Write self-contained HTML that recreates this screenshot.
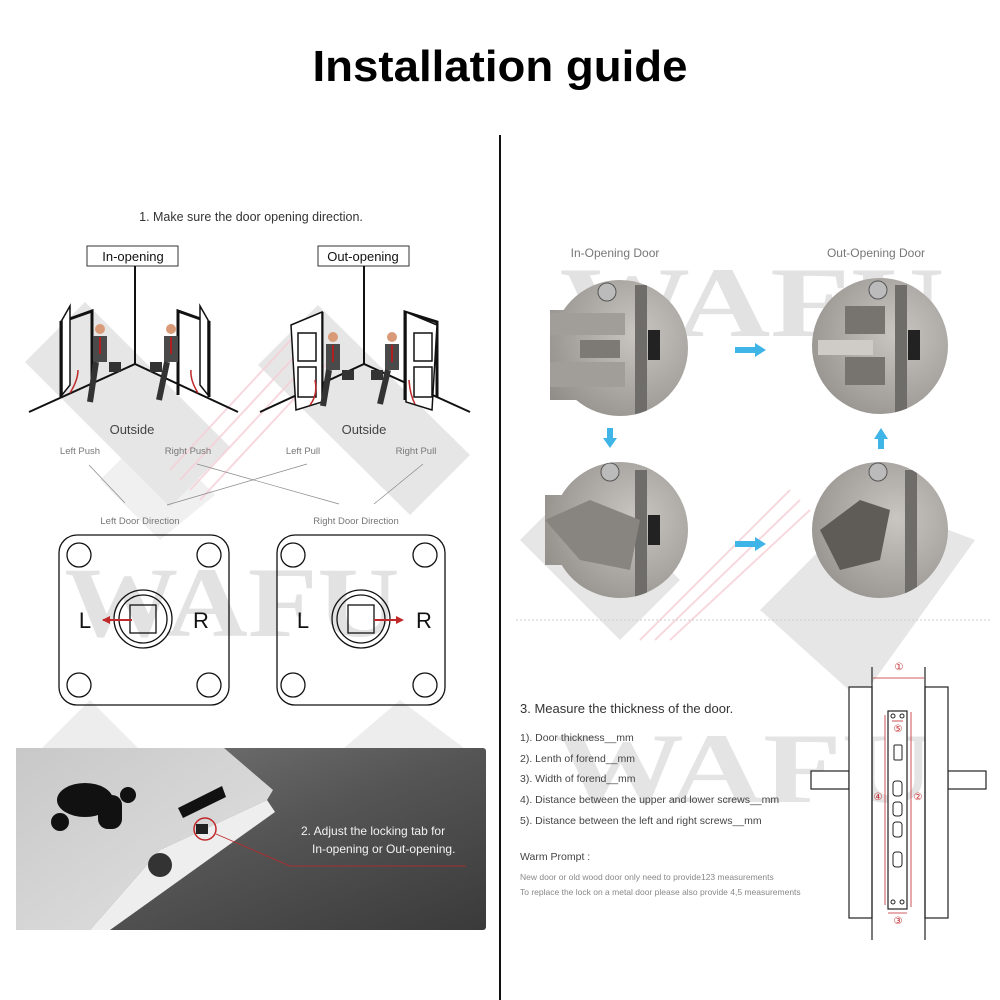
<!DOCTYPE html>
<html><head><meta charset="utf-8"><style>
html,body{margin:0;padding:0;background:#fff;}
svg{display:block;}
text{font-family:"Liberation Sans",sans-serif;}
text.wm{font-family:"Liberation Serif",serif;font-weight:bold;}
</style></head><body>
<svg width="1000" height="1000" viewBox="0 0 1000 1000" xmlns="http://www.w3.org/2000/svg">
<defs>
<linearGradient id="dark" x1="0" y1="0" x2="1" y2="1"><stop offset="0" stop-color="#7a7a7a"/><stop offset="0.5" stop-color="#555"/><stop offset="1" stop-color="#3a3a3a"/></linearGradient>
<linearGradient id="plate" x1="0" y1="0" x2="1" y2="1"><stop offset="0" stop-color="#c8c8c8"/><stop offset="1" stop-color="#e2e2e2"/></linearGradient>
<radialGradient id="metal" cx="0.6" cy="0.4" r="0.7"><stop offset="0" stop-color="#c9c6c2"/><stop offset="1" stop-color="#8d8a86"/></radialGradient>
<clipPath id="c1"><circle cx="620" cy="348" r="68"/><rect x="550" y="310" width="60" height="90"/></clipPath>
<clipPath id="c2"><circle cx="880" cy="346" r="68"/></clipPath>
<clipPath id="c3"><circle cx="620" cy="530" r="68"/><rect x="545" y="495" width="60" height="70"/></clipPath>
<clipPath id="c4"><circle cx="880" cy="530" r="68"/></clipPath>
</defs>

<!-- watermark diamonds -->
<g fill="#e6e6e6">
<polygon points="25,362 85,302 230,447 170,507"/>
<polygon points="258,365 318,305 470,455 410,515"/>
<polygon points="150,430 215,495 160,540 100,480" opacity="0.6"/>
<polygon points="520,540 580,480 680,580 620,640"/>
<polygon points="760,610 870,500 975,540 860,700"/>
<polygon points="30,760 90,700 240,850 180,910" opacity="0.7"/>
<polygon points="330,760 400,700 480,760 410,830" opacity="0.7"/>
</g>
<g stroke="#f6cfd6" stroke-width="2" opacity="0.8">
<line x1="170" y1="470" x2="300" y2="330"/><line x1="180" y1="480" x2="310" y2="340"/><line x1="190" y1="490" x2="320" y2="350"/><line x1="200" y1="500" x2="330" y2="360"/>
<line x1="640" y1="640" x2="790" y2="490"/><line x1="655" y1="640" x2="800" y2="500"/><line x1="670" y1="640" x2="810" y2="510"/>
</g>
<!-- WAFU watermark text -->
<text class="wm" x="232" y="636" font-size="100" fill="#e2e2e2" text-anchor="middle" textLength="335" lengthAdjust="spacingAndGlyphs">WAFU</text>
<text class="wm" x="752" y="336" font-size="100" fill="#e2e2e2" text-anchor="middle" textLength="385" lengthAdjust="spacingAndGlyphs">WAFU</text>
<text class="wm" x="745" y="802" font-size="100" fill="#e4e4e4" text-anchor="middle" textLength="380" lengthAdjust="spacingAndGlyphs">WAFU</text>

<!-- title -->
<text x="500" y="81" font-size="44" font-weight="bold" text-anchor="middle" fill="#000" textLength="375" lengthAdjust="spacingAndGlyphs">Installation guide</text>
<line x1="500" y1="135" x2="500" y2="1000" stroke="#111" stroke-width="2"/>

<!-- left section 1 -->
<text x="251" y="221" font-size="12.5" text-anchor="middle" fill="#333">1. Make sure the door opening direction.</text>
<rect x="87" y="246" width="91" height="20" fill="#fff" stroke="#333"/>
<text x="133" y="261" font-size="13" text-anchor="middle" fill="#111">In-opening</text>
<rect x="318" y="246" width="91" height="20" fill="#fff" stroke="#333"/>
<text x="363" y="261" font-size="13" text-anchor="middle" fill="#111">Out-opening</text>
<g stroke="#111" stroke-width="2" fill="none">
<line x1="135" y1="266" x2="135" y2="364"/><polyline points="29,412 135,364 238,412"/>
<line x1="364" y1="266" x2="364" y2="364"/><polyline points="260,412 364,364 470,412"/>
</g>
<!-- doors -->
<g stroke="#111" stroke-width="3" fill="none">
<polyline points="61,397 61,322 92,311 92,395"/>
<polyline points="209,397 209,322 178,311 178,395"/>
<polyline points="322,402 322,312"/>
<polyline points="405,400 405,312 437,322 437,397"/>
</g>
<g stroke="#111" stroke-width="1.5" fill="#fff">
<polygon points="62,320 70,306 70,385 62,395"/>
<polygon points="208,320 200,306 200,385 208,395"/>
<polygon points="291,325 322,312 322,402 296,410" />
<polygon points="437,325 406,312 406,402 432,410"/>
<rect x="298" y="333" width="18" height="28" fill="none"/><rect x="298" y="367" width="18" height="30" fill="none"/>
<rect x="414" y="333" width="18" height="28" fill="none"/><rect x="414" y="367" width="18" height="30" fill="none"/>
</g>
<!-- persons -->
<g>
<g transform="translate(100,332)"><circle cx="0" cy="-3" r="5" fill="#d99a78"/><rect x="-7" y="4" width="14" height="26" fill="#4a4a4a"/><line x1="0" y1="5" x2="0" y2="22" stroke="#b02020" stroke-width="2"/><polyline points="-4,30 -10,70 M4,30 12,68" stroke="#333" stroke-width="6" fill="none"/><rect x="9" y="30" width="12" height="10" fill="#333"/></g>
<g transform="translate(171,332)"><circle cx="0" cy="-3" r="5" fill="#d99a78"/><rect x="-7" y="4" width="14" height="26" fill="#4a4a4a"/><line x1="0" y1="5" x2="0" y2="22" stroke="#b02020" stroke-width="2"/><polyline points="-4,30 -12,68 M4,30 10,70" stroke="#333" stroke-width="6" fill="none"/><rect x="-21" y="30" width="12" height="10" fill="#333"/></g>
<g transform="translate(333,340)"><circle cx="0" cy="-3" r="5" fill="#d99a78"/><rect x="-7" y="4" width="14" height="26" fill="#4a4a4a"/><line x1="0" y1="5" x2="0" y2="22" stroke="#b02020" stroke-width="2"/><polyline points="-4,30 -10,66 M4,30 12,64" stroke="#333" stroke-width="6" fill="none"/><rect x="9" y="30" width="12" height="10" fill="#333"/></g>
<g transform="translate(392,340)"><circle cx="0" cy="-3" r="5" fill="#d99a78"/><rect x="-7" y="4" width="14" height="26" fill="#4a4a4a"/><line x1="0" y1="5" x2="0" y2="22" stroke="#b02020" stroke-width="2"/><polyline points="-4,30 -12,64 M4,30 10,66" stroke="#333" stroke-width="6" fill="none"/><rect x="-21" y="30" width="12" height="10" fill="#333"/></g>
</g>
<g stroke="#c0282a" stroke-width="1.5" fill="none">
<path d="M70,393 Q78,380 78,370"/><path d="M198,393 Q190,380 191,370"/>
<path d="M315,380 Q318,395 310,405"/><path d="M409,380 Q410,395 415,404"/>
</g>
<text x="132" y="434" font-size="13" text-anchor="middle" fill="#444">Outside</text>
<text x="364" y="434" font-size="13" text-anchor="middle" fill="#444">Outside</text>
<g font-size="9.5" fill="#777" text-anchor="middle">
<text x="80" y="454">Left Push</text><text x="188" y="454">Right Push</text>
<text x="303" y="454">Left Pull</text><text x="416" y="454">Right Pull</text>
<text x="140" y="524">Left Door Direction</text><text x="356" y="524">Right Door Direction</text>
</g>
<g stroke="#888" stroke-width="0.7">
<line x1="89" y1="465" x2="125" y2="503"/><line x1="307" y1="464" x2="167" y2="505"/>
<line x1="197" y1="464" x2="339" y2="504"/><line x1="423" y1="464" x2="374" y2="504"/>
</g>
<!-- plates -->
<g stroke="#111" stroke-width="1.3" fill="none">
<rect x="59" y="535" width="170" height="170" rx="18"/>
<circle cx="79" cy="555" r="12"/><circle cx="209" cy="555" r="12"/><circle cx="79" cy="685" r="12"/><circle cx="209" cy="685" r="12"/>
<circle cx="143" cy="619" r="29"/><circle cx="143" cy="619" r="24"/>
<rect x="130" y="605" width="26" height="28"/>
<rect x="277" y="535" width="168" height="170" rx="18"/>
<circle cx="293" cy="555" r="12"/><circle cx="425" cy="555" r="12"/><circle cx="293" cy="685" r="12"/><circle cx="425" cy="685" r="12"/>
<circle cx="361" cy="619" r="29"/><circle cx="361" cy="619" r="24"/>
<rect x="348" y="605" width="26" height="28"/>
</g>
<g stroke="#c0282a" stroke-width="2"><line x1="103" y1="620" x2="132" y2="620"/><line x1="374" y1="620" x2="402" y2="620"/></g>
<polygon points="102,620 110,616 110,624" fill="#c0282a"/><polygon points="404,620 396,616 396,624" fill="#c0282a"/>
<g font-size="22" fill="#111" text-anchor="middle"><text x="85" y="628">L</text><text x="201" y="628">R</text><text x="303" y="628">L</text><text x="424" y="628">R</text></g>

<!-- bottom photo -->
<rect x="16" y="748" width="470" height="182" rx="3" fill="url(#dark)"/>
<polygon points="16,748 224,748 273,790 267,800 160,850 90,930 16,930" fill="url(#plate)"/>
<polygon points="160,850 267,800 275,812 110,930 90,930" fill="#eee"/>
<ellipse cx="85" cy="800" rx="28" ry="17" fill="#111"/><rect x="98" y="795" width="24" height="34" rx="10" fill="#111"/>
<circle cx="60" cy="822" r="9" fill="#111"/><circle cx="128" cy="795" r="8" fill="#111"/>
<polygon points="178,808 222,786 226,797 183,818" fill="#111"/>
<circle cx="160" cy="865" r="12" fill="#333"/>
<rect x="196" y="824" width="12" height="10" fill="#222"/>
<circle cx="205" cy="829" r="11" fill="none" stroke="#c0282a" stroke-width="1.5"/>
<polyline points="216,834 290,866 466,866" fill="none" stroke="#c0282a" stroke-width="0.8"/>
<text x="301" y="835" font-size="12" fill="#f2f2f2">2. Adjust the locking tab for</text>
<text x="312" y="853" font-size="12" fill="#f2f2f2">In-opening or Out-opening.</text>

<!-- right: photos -->
<text x="615" y="257" font-size="12" text-anchor="middle" fill="#777">In-Opening Door</text>
<text x="876" y="257" font-size="12" text-anchor="middle" fill="#777">Out-Opening Door</text>
<g clip-path="url(#c1)"><rect x="540" y="270" width="160" height="160" fill="url(#metal)"/><rect x="635" y="285" width="12" height="130" fill="#6f6d6a"/><rect x="648" y="330" width="12" height="30" fill="#222"/><rect x="550" y="313" width="75" height="22" fill="#a19d98"/><rect x="550" y="362" width="75" height="25" fill="#a19d98"/><rect x="580" y="340" width="40" height="18" fill="#7d7a76"/><circle cx="607" cy="292" r="9" fill="#bbb" stroke="#555"/></g>
<g clip-path="url(#c2)"><rect x="800" y="270" width="160" height="160" fill="url(#metal)"/><rect x="895" y="285" width="12" height="130" fill="#6f6d6a"/><rect x="908" y="330" width="12" height="30" fill="#222"/><rect x="845" y="306" width="40" height="28" fill="#77746f"/><rect x="845" y="357" width="40" height="28" fill="#77746f"/><rect x="818" y="340" width="55" height="15" fill="#cfccc8"/><circle cx="878" cy="290" r="9" fill="#bbb" stroke="#555"/></g>
<g clip-path="url(#c3)"><rect x="540" y="455" width="160" height="160" fill="url(#metal)"/><rect x="635" y="470" width="12" height="130" fill="#6f6d6a"/><rect x="648" y="515" width="12" height="30" fill="#222"/><polygon points="545,520 590,500 640,520 630,570 580,560" fill="#88847f"/><circle cx="610" cy="472" r="9" fill="#bbb" stroke="#555"/></g>
<g clip-path="url(#c4)"><rect x="800" y="455" width="160" height="160" fill="url(#metal)"/><rect x="905" y="470" width="12" height="130" fill="#6f6d6a"/><polygon points="820,530 860,500 890,510 880,560 840,570" fill="#5f5c58"/><circle cx="878" cy="472" r="9" fill="#bbb" stroke="#555"/></g>
<g fill="#3fb4e6">
<rect x="735" y="347" width="20" height="6"/><polygon points="755,343 766,350 755,357"/>
<rect x="735" y="541" width="20" height="6"/><polygon points="755,537 766,544 755,551"/>
<rect x="607" y="428" width="6" height="11"/><polygon points="603,438 617,438 610,448"/>
<rect x="878" y="438" width="6" height="11"/><polygon points="874,439 888,439 881,428"/>
</g>
<line x1="516" y1="620" x2="990" y2="620" stroke="#ccc" stroke-dasharray="2,2"/>

<!-- right section 3 -->
<text x="520" y="713" font-size="13" fill="#333">3. Measure the thickness of the door.</text>
<g font-size="10.5" fill="#444">
<text x="520" y="741">1). Door thickness__mm</text>
<text x="520" y="762">2). Lenth of forend__mm</text>
<text x="520" y="782">3). Width of forend__mm</text>
<text x="520" y="803">4). Distance between the upper and lower screws__mm</text>
<text x="520" y="824">5). Distance between the left and right screws__mm</text>
<text x="520" y="860">Warm Prompt :</text>
</g>
<g font-size="8.5" fill="#888">
<text x="520" y="880">New door or old wood door only need to provide123 measurements</text>
<text x="520" y="895">To replace the lock on a metal door please also provide 4,5 measurements</text>
</g>
<!-- door diagram -->
<g stroke="#222" stroke-width="1.2" fill="#fff">
<rect x="811" y="771" width="38" height="18"/><rect x="948" y="771" width="38" height="18"/>
<rect x="849" y="687" width="23" height="231"/><rect x="925" y="687" width="23" height="231"/>
<line x1="872" y1="667" x2="872" y2="940"/><line x1="925" y1="667" x2="925" y2="940"/>
<rect x="888" y="711" width="19" height="198"/>
</g>
<g stroke="#222" stroke-width="1" fill="none">
<rect x="894" y="745" width="8" height="15" rx="1"/><rect x="893" y="781" width="9" height="15" rx="3"/><rect x="893" y="802" width="9" height="14" rx="3"/><rect x="893" y="822" width="9" height="15" rx="3"/><rect x="893" y="852" width="9" height="15" rx="3"/>
<circle cx="893" cy="716" r="2"/><circle cx="902" cy="716" r="2"/><circle cx="893" cy="902" r="2"/><circle cx="902" cy="902" r="2"/>
</g>
<g stroke="#c0282a" stroke-width="0.8" fill="none">
<line x1="873" y1="678" x2="924" y2="678"/>
<line x1="885" y1="715" x2="885" y2="905"/><line x1="911" y1="712" x2="911" y2="907"/>
<line x1="888" y1="913" x2="907" y2="913"/><line x1="892" y1="721" x2="903" y2="721"/>
</g>
<g font-size="10" fill="#c0282a" text-anchor="middle">
<text x="899" y="670">①</text><text x="898" y="732">⑤</text><text x="878" y="800">④</text><text x="918" y="800">②</text><text x="898" y="924">③</text>
</g>
</svg>
</body></html>
